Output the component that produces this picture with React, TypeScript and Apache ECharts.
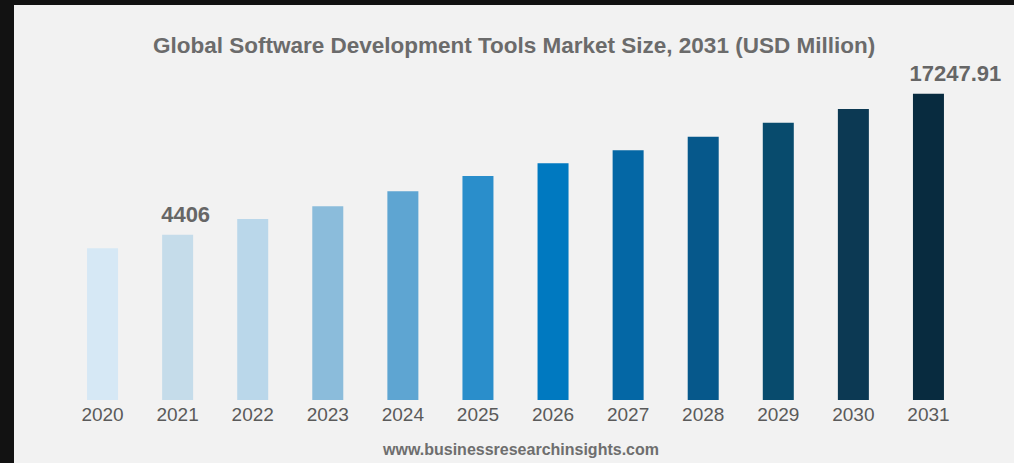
import React, { useEffect, useRef } from "react";
import * as echarts from "echarts";

const categories = ["2020", "2021", "2022", "2023", "2024", "2025", "2026", "2027", "2028", "2029", "2030", "2031"];
const marketSize = [3167, 4406, 5836, 6992, 8358, 9752, 10908, 12092, 13331, 14606, 15854, 17247.91];
const barColors = [
  "#d6e8f5", "#c5dcea", "#bad7ea", "#8bbcdb", "#5ea5d2", "#2a8ecb",
  "#0079c0", "#0467a5", "#06588b", "#084b6d", "#0c3953", "#082b3f",
];
const labeledYears = ["2021", "2031"];
const labelOffsets = { "2021": [8, 0], "2031": [27, 0] };
const titleText = "Global Software Development Tools Market Size, 2031 (USD Million)";
const sourceText = "www.businessresearchinsights.com";

const FONT = "'Liberation Sans', Arial, Helvetica, sans-serif";
const AXIS_MIN = -10649;
const AXIS_MAX = 20772;

export default function App() {
  const ref = useRef<HTMLDivElement>(null);

  useEffect(() => {
    document.body.style.margin = "0";
    if (!ref.current) return;
    const chart = echarts.init(ref.current, undefined, { renderer: "svg" });
    const data = marketSize.map((v, i) => {
      const year = categories[i];
      const item: any = { value: v, itemStyle: { color: barColors[i] } };
      if (labeledYears.includes(year)) {
        item.label = {
          show: true,
          position: "top",
          distance: 9,
          offset: (labelOffsets as any)[year],
          color: "#666666",
          fontSize: 22,
          fontWeight: "bold",
          fontFamily: FONT,
          formatter: year === "2031" ? "17247.91" : "{c}",
        };
      }
      return item;
    });
    chart.setOption({
      animation: false,
      backgroundColor: "#f2f2f2",
      title: {
        text: titleText,
        left: "center",
        top: 24,
        textStyle: { color: "#6b6b6b", fontSize: 22.5, fontWeight: "bold", fontFamily: FONT },
      },
      graphic: [
        {
          type: "text",
          x: 507,
          y: 444,
          style: {
            text: sourceText,
            fill: "#6e6e6e",
            font: `bold 16px ${FONT}`,
            textAlign: "center",
            textVerticalAlign: "middle",
          },
        },
      ],
      grid: { left: 51, right: 48, top: 50, bottom: 63, containLabel: false },
      xAxis: {
        type: "category",
        data: categories,
        axisLine: { show: false },
        axisTick: { show: false },
        axisLabel: { color: "#5a5a5a", fontSize: 19, margin: 5, fontFamily: FONT },
      },
      yAxis: {
        type: "value",
        show: false,
        min: AXIS_MIN,
        max: AXIS_MAX,
        startValue: AXIS_MIN,
        splitLine: { show: false },
      },
      series: [
        {
          type: "bar",
          data,
          barWidth: 31,
          label: { show: false },
        },
      ],
    });
    return () => chart.dispose();
  }, []);

  return (
    <div style={{ position: "relative", width: 1014, height: 463, background: "#121212", overflow: "hidden" }}>
      <div ref={ref} style={{ position: "absolute", left: 14, top: 5, width: 1000, height: 458 }} />
    </div>
  );
}
